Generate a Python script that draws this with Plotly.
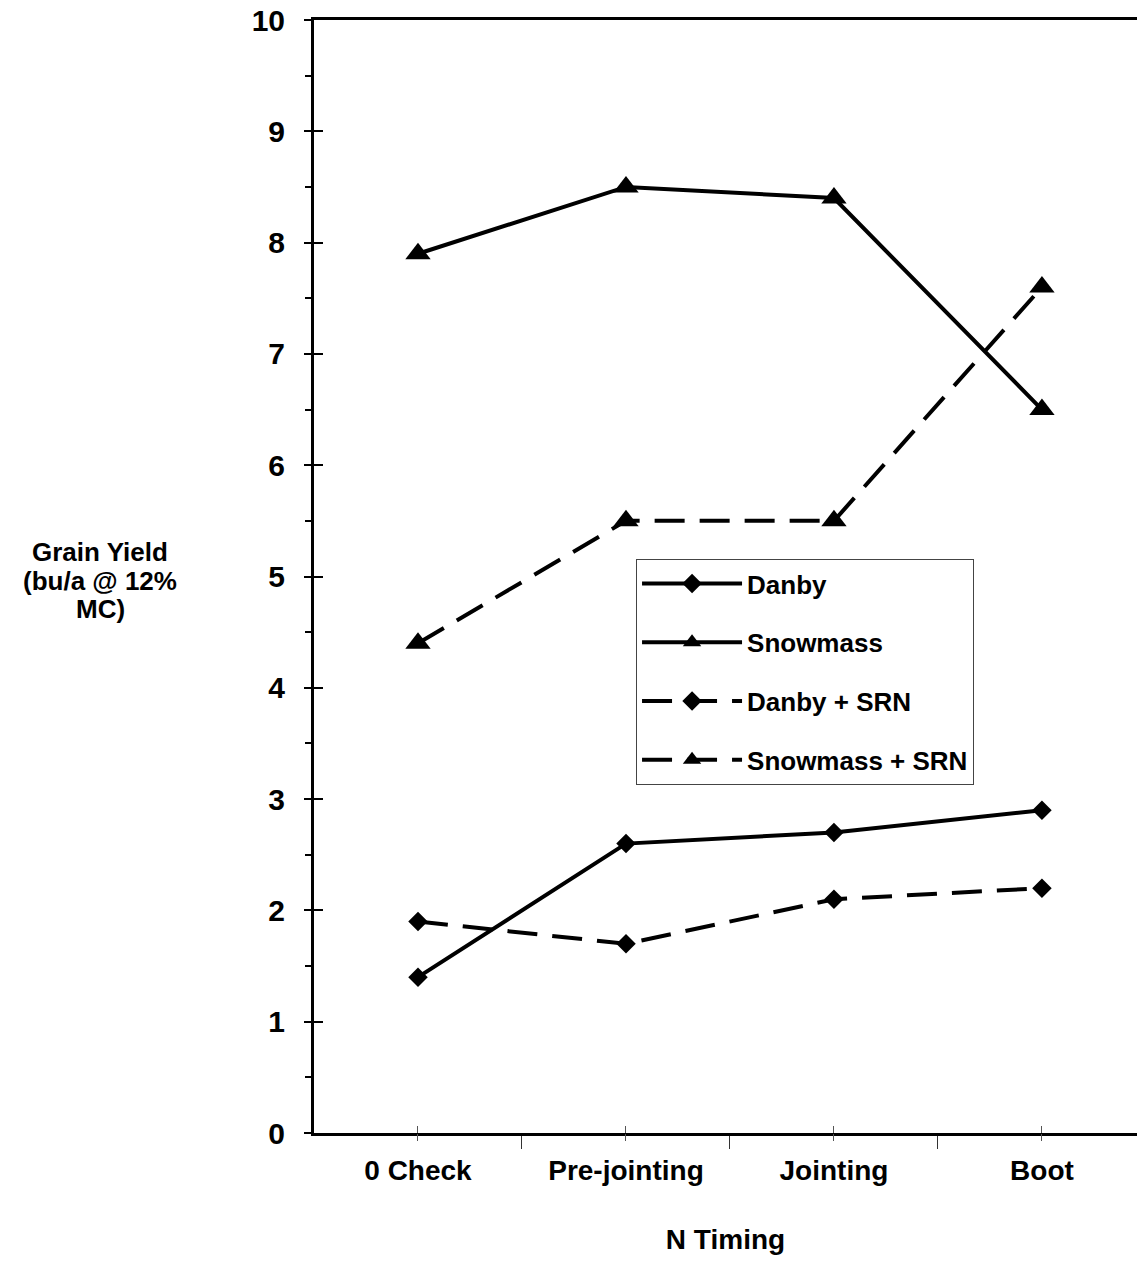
import plotly.graph_objects as go

categories = ["0 Check", "Pre-jointing", "Jointing", "Boot"]
danby = [1.4, 2.6, 2.7, 2.9]
snowmass = [7.9, 8.5, 8.4, 6.5]
danby_srn = [1.9, 1.7, 2.1, 2.2]
snowmass_srn = [4.4, 5.5, 5.5, 7.6]
y_ticks = list(range(0, 11))

FONT = "Liberation Sans, Arial, sans-serif"
xs = list(range(len(categories)))

fig = go.Figure()
series = [
    ("Danby", danby, "diamond", 15, "solid", "x", "y"),
    ("Snowmass", snowmass, "triangle-up", 22, "solid", "x", "y"),
    ("Danby + SRN", danby_srn, "diamond", 15, "30px,15px", "x", "y"),
    ("Snowmass + SRN", snowmass_srn, "triangle-up", 22, "30px,15px", "x2", "y2"),
]
for i, (name, vals, sym, size, dash, xa, ya) in enumerate(series):
    fig.add_trace(go.Scatter(
        x=xs, y=vals, name=name, mode="lines+markers",
        line=dict(color="black", width=4, dash=dash),
        marker=dict(symbol=sym, size=size, color="black"),
        legendgroup=f"g{i}", xaxis=xa, yaxis=ya,
    ))

xrange = [-0.5, 3.457]
fig.update_layout(
    width=1137, height=1284,
    margin=dict(l=314, r=0, t=20, b=151),
    paper_bgcolor="white", plot_bgcolor="white",
    font=dict(family=FONT, color="black"),
    showlegend=True,
    legend=dict(
        x=0.3913, y=0.5157, xanchor="left", yanchor="top",
        bordercolor="#444", borderwidth=1, bgcolor="white",
        font=dict(size=26, family=FONT, color="black", weight="bold"),
        traceorder="grouped", tracegroupgap=22, itemwidth=100,
    ),
    xaxis=dict(
        range=xrange, tickmode="array", tickvals=xs, ticktext=categories,
        ticks="inside", ticklen=7, tickwidth=1, tickcolor="#555",
        minor=dict(tickmode="array", tickvals=[-0.5, 0.5, 1.5, 2.5, 3.5],
                   ticks="outside", ticklen=13, tickwidth=1, tickcolor="#333"),
        showline=True, linecolor="black", linewidth=3, mirror=True,
        showgrid=False, zeroline=False,
        tickfont=dict(size=28, family=FONT, color="black", weight="bold"),
        ticklabelstandoff=10,
        title=dict(text="<b>N Timing</b>", font=dict(size=28, family=FONT, color="black"),
                   standoff=45),
    ),
    yaxis=dict(
        range=[0, 10], tickmode="array", tickvals=y_ticks,
        ticks="inside", ticklen=9, tickwidth=2, tickcolor="black",
        minor=dict(tickmode="array", tickvals=[v + 0.5 for v in y_ticks[:-1]],
                   ticks="outside", ticklen=6, tickwidth=2, tickcolor="black"),
        showline=True, linecolor="black", linewidth=3,
        showgrid=False, zeroline=False,
        tickfont=dict(size=30, family=FONT, color="black", weight="bold"),
        ticklabelstandoff=20,
    ),
    xaxis2=dict(
        overlaying="x", anchor="y2", side="bottom", range=xrange,
        tickmode="array", tickvals=xs, ticks="outside", ticklen=7, tickwidth=1,
        tickcolor="#555", showticklabels=False, showline=False, showgrid=False,
        zeroline=False,
    ),
    yaxis2=dict(
        overlaying="y", anchor="x2", side="left", range=[0, 10],
        tickmode="array", tickvals=y_ticks, ticks="outside", ticklen=9, tickwidth=2,
        tickcolor="black", showticklabels=False, showline=False, showgrid=False,
        zeroline=False,
    ),
    annotations=[
        dict(text=f"<b>{t}</b>", xref="paper", yref="paper", x=-0.26, y=yy,
             xanchor="center", yanchor="middle", showarrow=False,
             font=dict(size=26, family=FONT, color="black"))
        for t, yy in [("Grain Yield", 0.522), ("(bu/a @ 12%", 0.496), ("MC)", 0.4708)]
    ],
)

fig.write_html("out.html")
